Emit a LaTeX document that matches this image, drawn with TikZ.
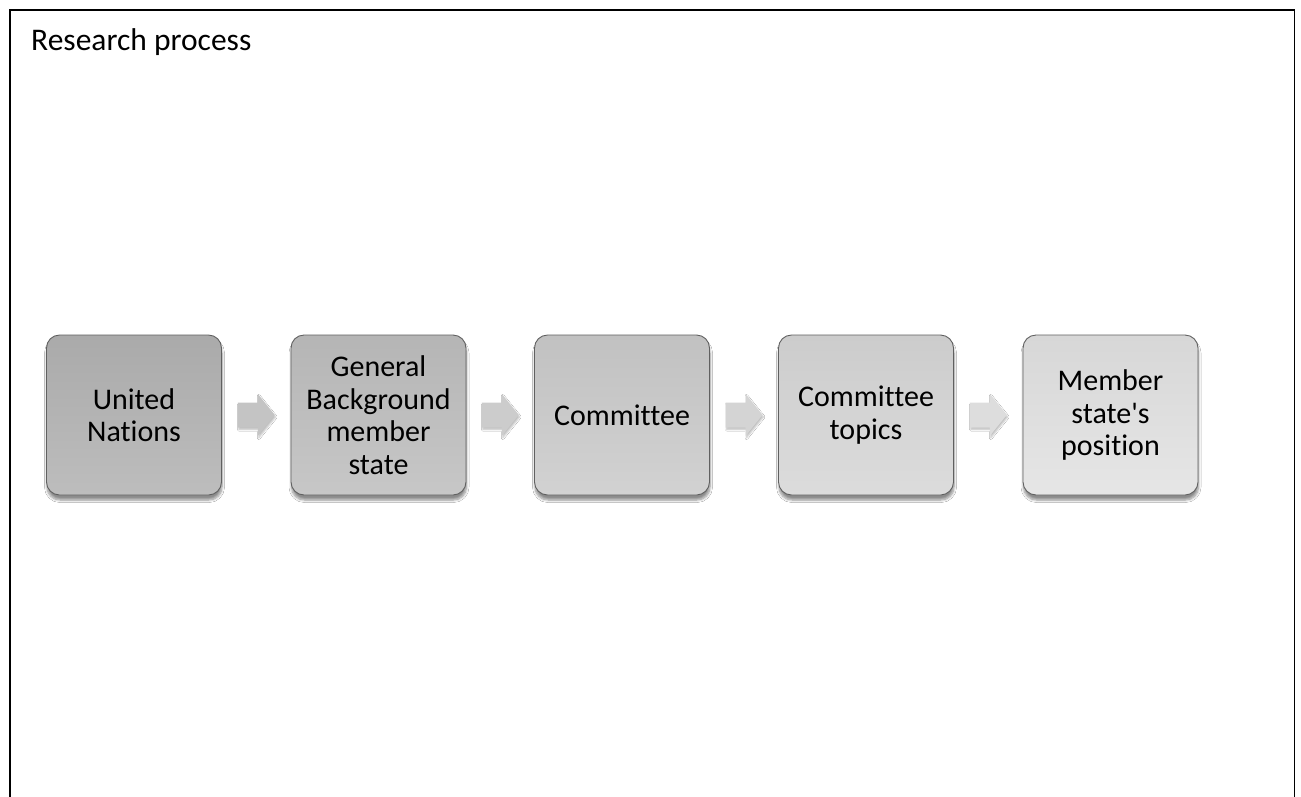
\documentclass[tikz,border=0pt]{standalone}
\usepackage{fontspec}
\setmainfont{Carlito}[Ligatures={NoCommon,NoContextual}, RawFeature={-liga;-clig;-calt}]
\usetikzlibrary{calc,shadows.blur}

% step box fills: darker at the start of the process, lighter at the end
\definecolor{boxline}{RGB}{96,96,96}
\definecolor{fillAtop}{RGB}{170,170,170}\definecolor{fillAbot}{RGB}{189,189,189}
\definecolor{fillBtop}{RGB}{181,181,181}\definecolor{fillBbot}{RGB}{199,199,199}
\definecolor{fillCtop}{RGB}{193,193,193}\definecolor{fillCbot}{RGB}{210,210,210}
\definecolor{fillDtop}{RGB}{204,204,204}\definecolor{fillDbot}{RGB}{220,220,220}
\definecolor{fillEtop}{RGB}{215,215,215}\definecolor{fillEbot}{RGB}{230,230,230}
\definecolor{arrA}{RGB}{196,196,196}
\definecolor{arrB}{RGB}{204,204,204}
\definecolor{arrC}{RGB}{212,212,212}
\definecolor{arrD}{RGB}{221,221,221}

\tikzset{
  stepbox/.style={draw=boxline, line width=0.9pt, rounded corners=13pt,
    minimum width=175pt, minimum height=160pt, inner sep=0pt, align=center,
    font=\fontsize{30}{32.5}\selectfont,
    blur shadow={shadow xshift=0.5pt, shadow yshift=-5pt, shadow opacity=45,
      shadow blur radius=2.5pt, shadow blur steps=6}},
  flowarrow/.style={fill=#1, draw=none,
    blur shadow={shadow xshift=1pt, shadow yshift=-2pt, shadow opacity=25,
      shadow blur radius=1.5pt, shadow blur steps=4}},
}

% block arrow centred between two named boxes
\newcommand\blockarrow[3]{%
  \coordinate (m-#1-#2) at ($(#1.east)!0.5!(#2.west)$);
  \path[flowarrow=#3]
    ($(m-#1-#2)+(-18.5,-12.5)$) -- ($(m-#1-#2)+(1.5,-12.5)$) --
    ($(m-#1-#2)+(1.5,-21)$) -- ($(m-#1-#2)+(18.5,0)$) --
    ($(m-#1-#2)+(1.5,21)$) -- ($(m-#1-#2)+(1.5,12.5)$) --
    ($(m-#1-#2)+(-18.5,12.5)$) -- cycle;}

\begin{document}
\begin{tikzpicture}[x=1pt,y=-1pt]
  \useasboundingbox (0,0) rectangle (1301,796);
  \fill[white] (0,0) rectangle (1301,796);

  % open frame (no bottom edge)
  \draw[line width=1.8pt] (10,800) -- (10,10) -- (1294.5,10) -- (1294.5,800);

  \node[anchor=base west, font=\fontsize{31.5}{36}\selectfont, inner sep=0pt]
    (title) at (31,50) {Research process};

  \node[stepbox, top color=fillAtop, bottom color=fillAbot] (un)  at (134,415)
    {United\\Nations};
  \node[stepbox, top color=fillBtop, bottom color=fillBbot] (bg)  at (378.5,415)
    {General\\Background\\member\\state};
  \node[stepbox, top color=fillCtop, bottom color=fillCbot] (com) at (622,415)
    {Committee};
  \node[stepbox, top color=fillDtop, bottom color=fillDbot] (top) at (866,415)
    {Committee\\topics};
  \node[stepbox, top color=fillEtop, bottom color=fillEbot] (pos) at (1110.5,415)
    {Member\\state\textquotesingle s\\position};

  \blockarrow{un}{bg}{arrA}
  \blockarrow{bg}{com}{arrB}
  \blockarrow{com}{top}{arrC}
  \blockarrow{top}{pos}{arrD}
\end{tikzpicture}
\end{document}
